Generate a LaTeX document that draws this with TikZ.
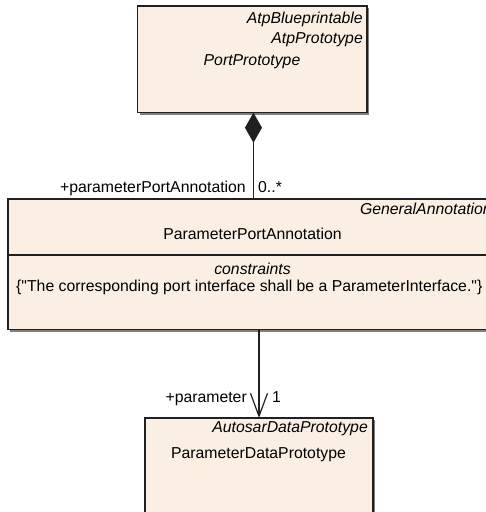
\documentclass[tikz,border=0pt]{standalone}
\usepackage{fontspec}
\setmainfont{Liberation Sans}[Ligatures=TeXOff]
\usetikzlibrary{arrows.meta}
\definecolor{boxfill}{HTML}{FAEFE2}
\definecolor{boxline}{HTML}{202020}
\tikzset{
  umlbox/.style={draw=boxline, fill=boxfill, line width=1.2pt, inner sep=0pt, outer sep=0pt, anchor=north west},
  shadowbox/.style={fill=black!50, draw=none, inner sep=0pt, outer sep=0pt, anchor=north west},
  txt/.style={font=\fontsize{15.8}{18}\selectfont, inner sep=0pt},
  itxt/.style={txt, font=\fontsize{15.8}{18}\selectfont\itshape},
  conn/.style={line width=1.2pt, draw=boxline}
}
\begin{document}
\begin{tikzpicture}[x=1pt,y=-1pt]
\useasboundingbox (0,0) rectangle (486,512);
\clip (0,0) rectangle (486,512);
% shadows
\node[shadowbox, minimum width=229.5pt, minimum height=106.7pt] at (139.5,8) {};
\node[shadowbox, minimum width=489pt, minimum height=130.5pt] at (10,201) {};
\node[shadowbox, minimum width=228pt, minimum height=112pt] at (147,420) {};
% boxes
\node[umlbox, minimum width=229.5pt, minimum height=106.7pt] (top) at (137.5,6) {};
\node[umlbox, minimum width=489pt, minimum height=130.5pt] (mid) at (8,199) {};
\node[umlbox, minimum width=228pt, minimum height=112pt] (bot) at (145,418) {};
\draw[conn] (mid.west |- 0,255) coordinate (dl) -- (mid.east |- 0,255) coordinate (dr);
% top box texts
\node[itxt, anchor=mid east] (t1) at (363,21) {AtpBlueprintable};
\node[itxt, anchor=mid east] (t2) at (363,41) {AtpPrototype};
\node[itxt, anchor=mid] (t3) at (252,63) {PortPrototype};
% middle box texts
\node[itxt, anchor=mid east] (m1) at (492,212) {GeneralAnnotation};
\node[txt, anchor=mid] (m2) at (252.5,237) {ParameterPortAnnotation};
\node[itxt, anchor=mid] (m3) at (252.5,272) {constraints};
\node[txt, anchor=mid west] (m4) at (16,289) {\{"The corresponding port interface shall be a ParameterInterface."\}};
% bottom box texts
\node[itxt, anchor=mid east] (b1) at (368,430) {AutosarDataPrototype};
\node[txt, anchor=mid] (b2) at (258.5,456) {ParameterDataPrototype};
% connectors
\draw[conn, {Diamond[length=30pt,width=17pt,fill=boxline]}-] ([xshift=1.2pt]top.south) -- ([xshift=1.2pt]top.south |- mid.north);
\draw[conn, -{Straight Barb[length=23pt,width=17pt,line width=1.2pt]}] (mid.south -| bot.north) -- (bot.north);
% labels
\node[txt, anchor=mid east] (l1) at (246,190) {+parameterPortAnnotation};
\node[txt, anchor=mid west] (l2) at (258,190) {0..*};
\node[txt, anchor=mid east] (l3) at (247,400) {+parameter};
\node[txt, anchor=mid west] (l4) at (272,400) {1};
\end{tikzpicture}
\end{document}
